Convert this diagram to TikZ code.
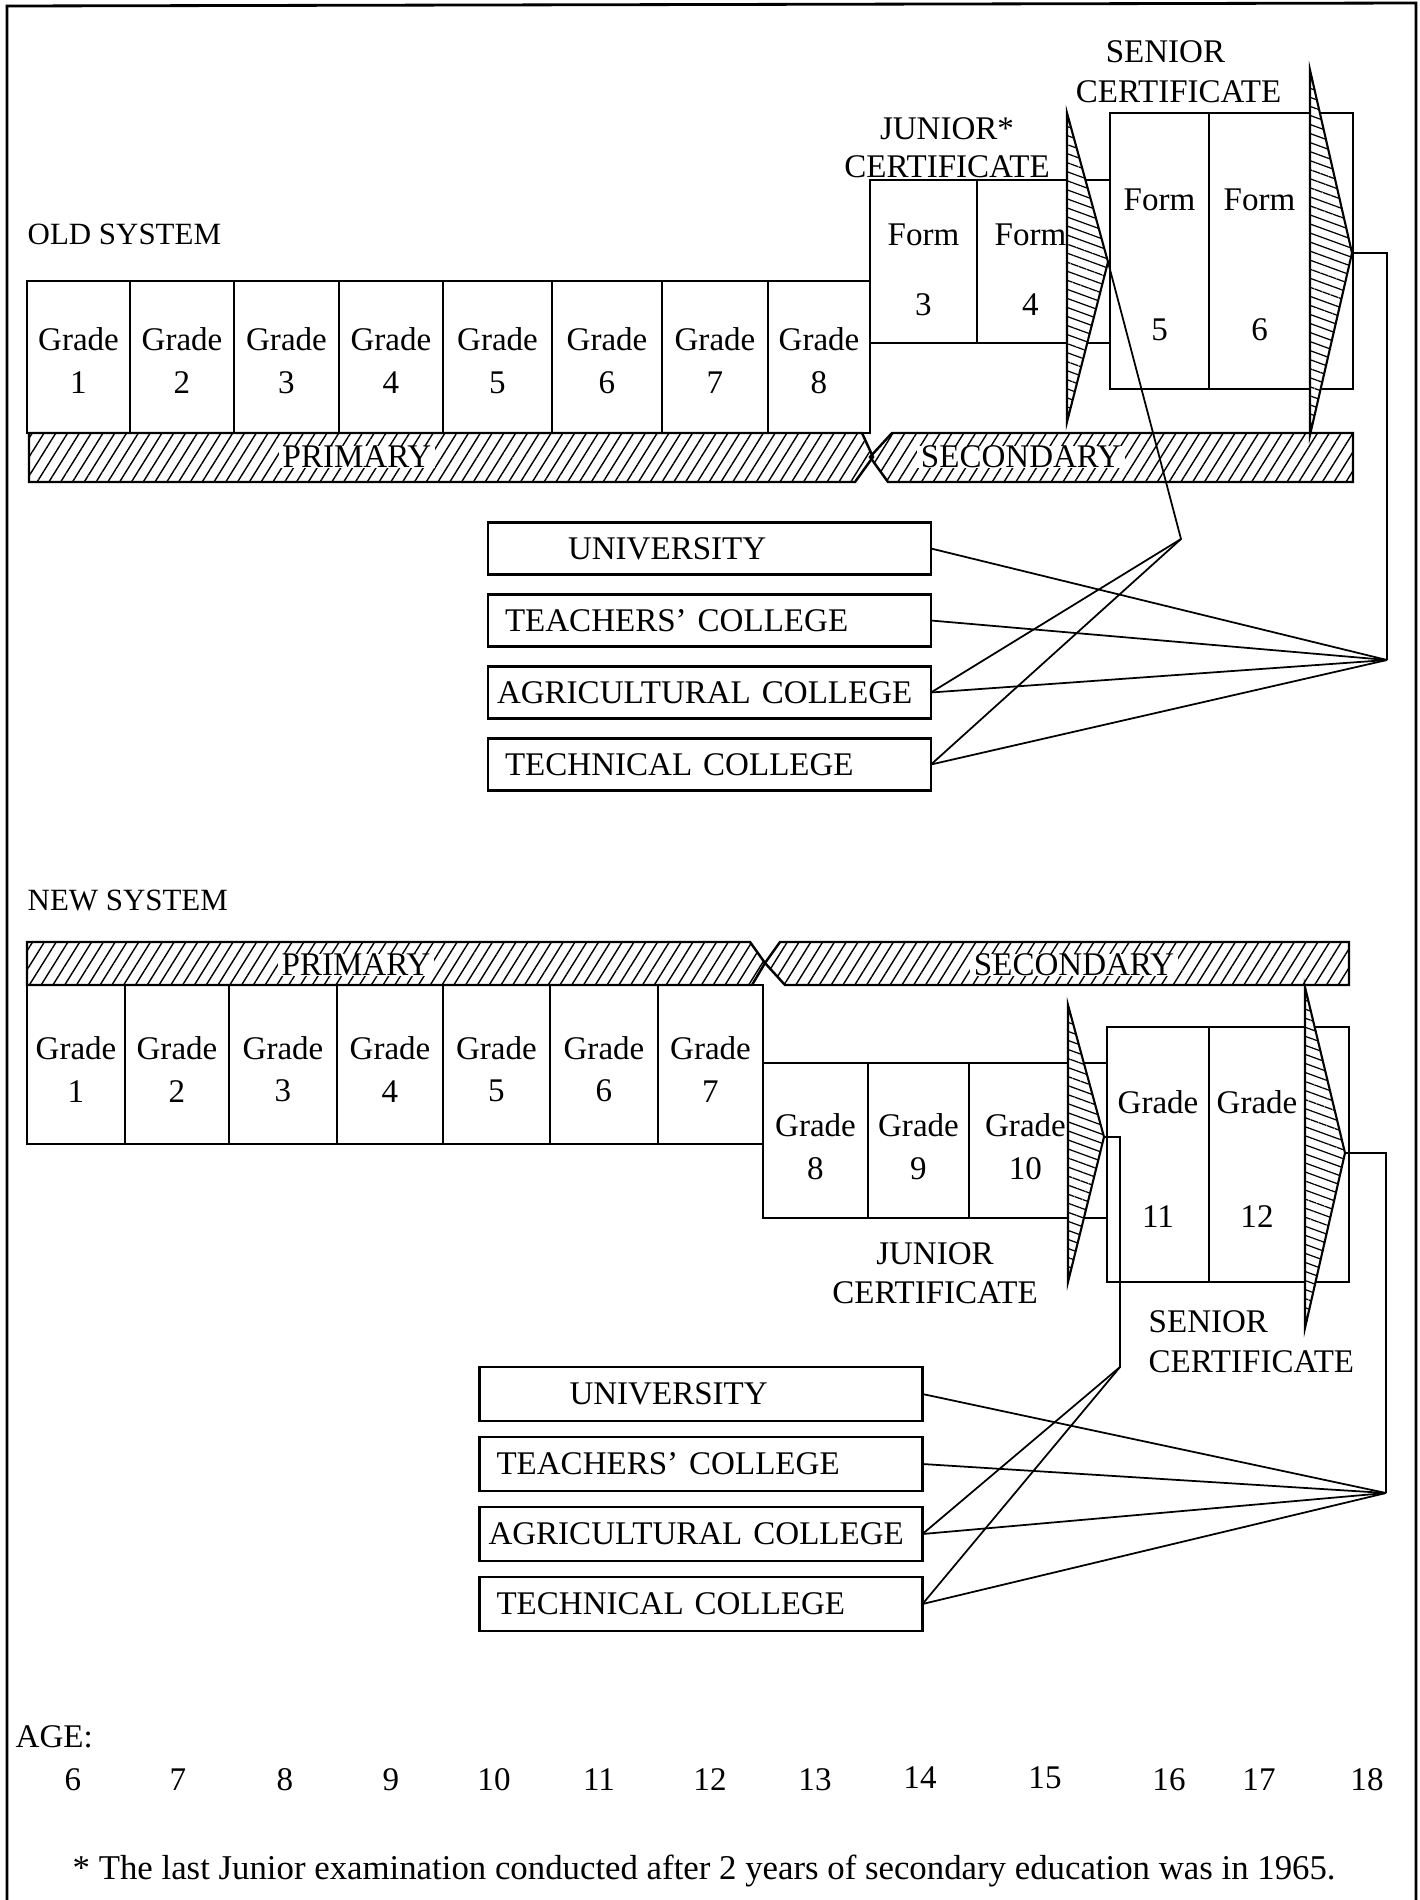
\documentclass[tikz,border=0pt]{standalone}
\usepackage{fontspec}
\setmainfont{Liberation Serif}
\usetikzlibrary{positioning,patterns.meta}

\begin{document}
\begin{tikzpicture}[
  x=0.1mm,y=-0.1mm,
  font=\fontsize{9.4}{12.2}\selectfont,
  cell/.style={draw,line width=0.6pt,outer sep=0pt,inner sep=0pt,align=center,minimum height=#1},
  lower/.style={execute at begin node={\rule{0pt}{#1}}},
  dest/.style={draw,line width=0.6pt,outer sep=0pt,minimum height=#1,inner xsep=1.7mm,text width=40.9mm,align=left},
  band/.style={draw,line width=0.7pt,pattern={Lines[angle=58,distance=1mm,line width=0.4pt]}},
  wedge/.style={draw,line width=0.6pt,preaction={fill=white},pattern={Lines[angle=-20,distance=0.85mm,line width=0.35pt]}},
  bandtext/.style={fill=white,inner xsep=1pt,inner ysep=0pt},
  heading/.style={anchor=west,inner sep=0pt},
  link/.style={line width=0.5pt}
]
\useasboundingbox (0,0) rectangle (1420,1900);
\draw[line width=0.8pt] (7,1900) -- (7,6) -- (1416,3) -- (1416,1900);

% ---------------- old system
\node[heading,font=\fontsize{8.8}{11}\selectfont] (oldsys) at (27,234) {OLD SYSTEM};

\node[cell=15.2mm,lower=20.9pt,minimum width=10.3mm] (og1) at (78.5,357) {Grade\\1};
\node[cell=15.2mm,lower=20.9pt,minimum width=10.4mm,right=0pt of og1] (og2) {Grade\\2};
\node[cell=15.2mm,lower=20.9pt,minimum width=10.5mm,right=0pt of og2] (og3) {Grade\\3};
\node[cell=15.2mm,lower=20.9pt,minimum width=10.4mm,right=0pt of og3] (og4) {Grade\\4};
\node[cell=15.2mm,lower=20.9pt,minimum width=10.9mm,right=0pt of og4] (og5) {Grade\\5};
\node[cell=15.2mm,lower=20.9pt,minimum width=11.0mm,right=0pt of og5] (og6) {Grade\\6};
\node[cell=15.2mm,lower=20.9pt,minimum width=10.6mm,right=0pt of og6] (og7) {Grade\\7};
\node[cell=15.2mm,lower=20.9pt,minimum width=10.2mm,right=0pt of og7] (og8) {Grade\\8};

\node[cell=16.3mm,lower=30.9pt,minimum width=10.7mm,anchor=north west] (of3) at (og8.north east |- 0,180) {Form\\[7.7pt]3};
\node[cell=16.3mm,lower=30.9pt,minimum width=10.7mm,right=0pt of of3] (of4) {Form\\[7.7pt]4};

\node[cell=27.6mm,lower=51pt,minimum width=9.9mm] (os5) at (1159.5,251) {Form\\[24.7pt]5};
\node[cell=27.6mm,lower=51pt,minimum width=10.1mm,right=0pt of os5] (os6) {Form\\[24.7pt]6};
\draw[line width=0.6pt] (of4.north east) -- (of4.north east -| os5.west);
\draw[line width=0.6pt] (of4.south east) -- (of4.south east -| os5.west);
\draw[line width=0.6pt] (os6.north east) -- ++(43,0) |- (os6.south east);

\draw[band] (29,433) -- (862,433) -- (873,457) -- (855,482) -- (29,482) -- cycle;
\draw[band] (892,433) -- (1353,433) -- (1353,482) -- (888,482) -- (870,457) -- cycle;
\node[bandtext] (oprim) at (357,457) {PRIMARY};
\node[bandtext] (osec) at (1021,457) {SECONDARY};

\coordinate (ojtip) at (1108,262);
\coordinate (ostip) at (1352,253);
\draw[wedge] (1067,113) -- (ojtip) -- (1067,422) -- cycle;
\draw[wedge] (1310,70) -- (ostip) -- (1310,435) -- cycle;

\node[align=center] (ojcert) at (947,148) {JUNIOR*\\[-1.5pt]CERTIFICATE};
\node[align=left] (oscert) at (1178.5,72) {\hspace*{3mm}SENIOR\\[-0.8pt]CERTIFICATE};

\node[dest=5.2mm] (ouni) at (709.5,548.5) {\hspace*{6.3mm}UNIVERSITY};
\node[dest=5.2mm,below=2mm of ouni] (oteach) {TEACHERS’ COLLEGE};
\node[dest=5.2mm,below=2mm of oteach] (oagri) {\hspace*{-0.8mm}AGRICULTURAL COLLEGE};
\node[dest=5.2mm,below=2mm of oagri] (otech) {TECHNICAL COLLEGE};

\coordinate (ojbend) at (1181,539);
\coordinate (osfan) at (1387,660);
\draw[link] (ojtip) -- (ojbend) -- (oagri.east);
\draw[link] (ojbend) -- (otech.east);
\draw[link] (ostip) -| (osfan);
\draw[link] (osfan) -- (ouni.east);
\draw[link] (osfan) -- (oteach.east);
\draw[link] (osfan) -- (oagri.east);
\draw[link] (osfan) -- (otech.east);

% ---------------- new system
\node[heading,font=\fontsize{8.8}{11}\selectfont] (newsys) at (27,900) {NEW SYSTEM};

\draw[band] (27,942) -- (750,942) -- (765,963) -- (752,985) -- (27,985) -- cycle;
\draw[band] (780,942) -- (1349,942) -- (1349,985) -- (785,985) -- (765,963) -- cycle;
\node[bandtext] (nprim) at (356,965) {PRIMARY};
\node[bandtext] (nsec) at (1074,965) {SECONDARY};

\node[cell=15.9mm,lower=21.4pt,minimum width=9.8mm] (ng1) at (76,1064.5) {Grade\\1};
\node[cell=15.9mm,lower=21.4pt,minimum width=10.4mm,right=0pt of ng1] (ng2) {Grade\\2};
\node[cell=15.9mm,lower=21.4pt,minimum width=10.8mm,right=0pt of ng2] (ng3) {Grade\\3};
\node[cell=15.9mm,lower=21.4pt,minimum width=10.6mm,right=0pt of ng3] (ng4) {Grade\\4};
\node[cell=15.9mm,lower=21.4pt,minimum width=10.7mm,right=0pt of ng4] (ng5) {Grade\\5};
\node[cell=15.9mm,lower=21.4pt,minimum width=10.8mm,right=0pt of ng5] (ng6) {Grade\\6};
\node[cell=15.9mm,lower=21.4pt,minimum width=10.5mm,right=0pt of ng6] (ng7) {Grade\\7};

\node[cell=15.5mm,lower=22pt,minimum width=10.5mm,anchor=north west] (ng8) at (ng7.north east |- 0,1063) {Grade\\8};
\node[cell=15.5mm,lower=22pt,minimum width=10.1mm,right=0pt of ng8] (ng9) {Grade\\9};
\node[cell=15.5mm,lower=22pt,minimum width=11.3mm,right=0pt of ng9] (ng10) {Grade\\10};

\node[cell=25.5mm,lower=41.8pt,minimum width=10.2mm] (ns11) at (1158,1154.5) {Grade\\[20.4pt]11};
\node[cell=25.5mm,lower=41.8pt,minimum width=9.6mm,right=0pt of ns11] (ns12) {Grade\\[20.4pt]12};
\draw[line width=0.6pt] (ng10.north east) -- (ng10.north east -| ns11.west);
\draw[line width=0.6pt] (ng10.south east) -- (ng10.south east -| ns11.west);
\draw[line width=0.6pt] (ns12.north east) -- ++(44,0) |- (ns12.south east);

\coordinate (njtip) at (1104,1137);
\coordinate (nstip) at (1345,1153);
\draw[wedge] (1068,1005) -- (njtip) -- (1068,1282) -- cycle;
\draw[wedge] (1305,987) -- (nstip) -- (1305,1328) -- cycle;

\node[align=center] (njcert) at (935,1273) {JUNIOR\\[-1.1pt]CERTIFICATE};
\node[align=left,anchor=west,inner sep=0pt] (nscert) at (1148,1342) {SENIOR\\[-0.8pt]CERTIFICATE};

\node[dest=5.4mm] (nuni) at (701,1394) {\hspace*{7.3mm}UNIVERSITY};
\node[dest=5.4mm,below=1.6mm of nuni] (nteach) {TEACHERS’ COLLEGE};
\node[dest=5.4mm,below=1.6mm of nteach] (nagri) {\hspace*{-0.8mm}AGRICULTURAL COLLEGE};
\node[dest=5.4mm,below=1.6mm of nagri] (ntech) {TECHNICAL COLLEGE};

\coordinate (njbend) at (1120,1367);
\coordinate (nsfan) at (1386,1493);
\draw[link] (njtip) -| (njbend) -- (nagri.east);
\draw[link] (njbend) -- (ntech.east);
\draw[link] (nstip) -| (nsfan);
\draw[link] (nsfan) -- (nuni.east);
\draw[link] (nsfan) -- (nteach.east);
\draw[link] (nsfan) -- (nagri.east);
\draw[link] (nsfan) -- (ntech.east);

% ---------------- ages
\node[heading] (agelbl) at (15,1737) {AGE:};
\node (a6) at (73,1780) {6};
\node (a7) at (178,1780) {7};
\node (a8) at (285,1780) {8};
\node (a9) at (391,1780) {9};
\node (a10) at (494,1780) {10};
\node (a11) at (599,1780) {11};
\node (a12) at (710,1780) {12};
\node (a13) at (815,1780) {13};
\node (a14) at (920,1778) {14};
\node (a15) at (1045,1778) {15};
\node (a16) at (1169,1780) {16};
\node (a17) at (1259,1780) {17};
\node (a18) at (1367,1780) {18};

\node[heading,font=\fontsize{9.9}{12}\selectfont] (fnote) at (72,1871) {* The last Junior examination conducted after 2 years of secondary education was in 1965.};
\end{tikzpicture}
\end{document}
